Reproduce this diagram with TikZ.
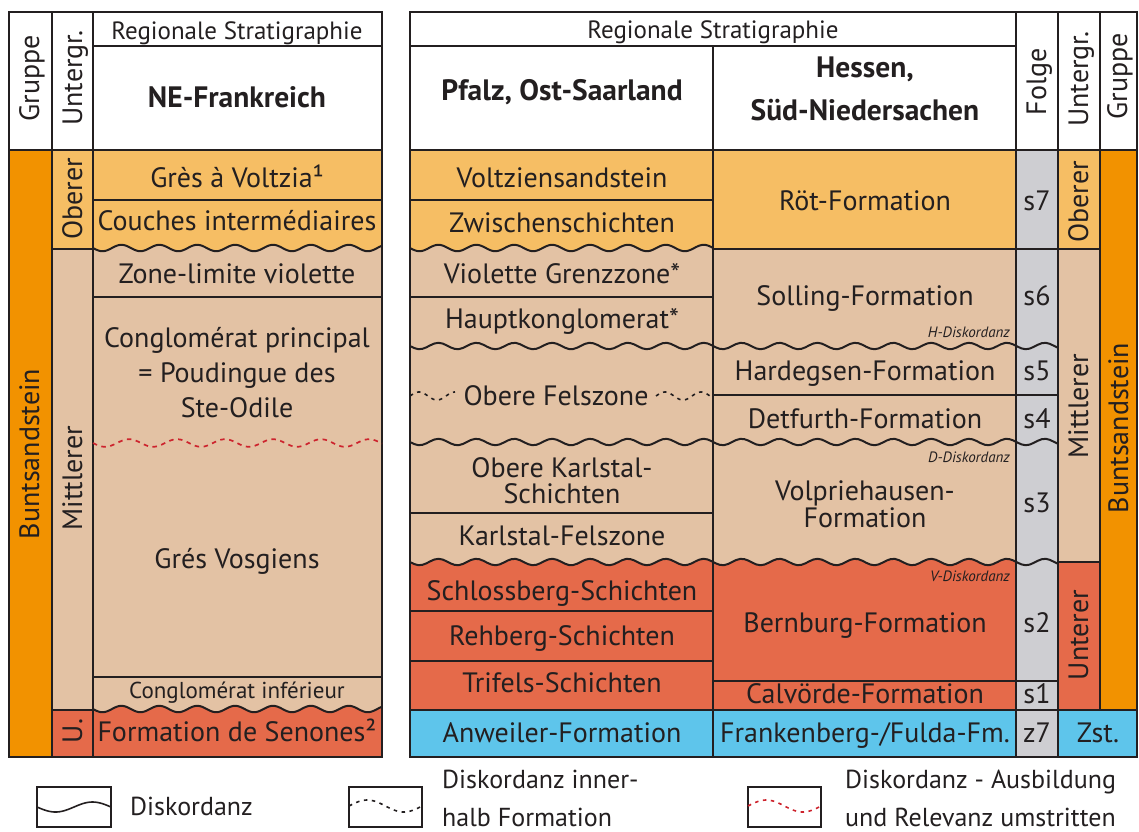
\documentclass[tikz,border=0pt]{standalone}
\usepackage{fontspec}
\setmainfont{PT Sans}
\definecolor{lor}{RGB}{246,190,100}
\definecolor{mtan}{RGB}{227,194,164}
\definecolor{mred}{RGB}{229,106,74}
\definecolor{mblue}{RGB}{94,197,235}
\definecolor{mgray}{RGB}{206,206,210}
\definecolor{morange}{RGB}{242,146,0}
\definecolor{lc}{RGB}{35,31,32}
\definecolor{dred}{RGB}{205,35,45}
\def\wa{3.2}
\def\wp{37.9}
\newcommand{\wline}[3]{\draw[bl] plot[domain=#1:#2,samples=160] (\x,{#3+\wa*sin((\x-#1)/\wp*360)});}
\newcommand{\wfill}[5]{\fill[#5] plot[domain=#1:#2,samples=160] (\x,{#3+\wa*sin((\x-#1)/\wp*360)}) -- (#2,#4) -- (#1,#4) -- cycle;}
\tikzset{
  bl/.style={draw=lc, line width=2pt},
  txt/.style={font=\fontsize{28}{35}\selectfont, text=lc, inner sep=0pt, align=center, anchor=base},
  hdr/.style={font=\fontsize{25}{30}\selectfont, text=lc, inner sep=0pt, anchor=base},
  bhdr/.style={font=\fontsize{29.5}{43}\selectfont\bfseries, text=lc, inner sep=0pt, align=center, anchor=base},
  rot/.style={font=\fontsize{28}{30}\selectfont, text=lc, inner sep=0pt, rotate=90, anchor=base},
  sml/.style={font=\fontsize{15}{17}\selectfont\itshape, text=lc, inner sep=0pt, anchor=base east},
  lgd/.style={font=\fontsize{26}{30}\selectfont, text=lc, inner sep=0pt, anchor=base west},
  lbox/.style={draw=lc, line width=1.6pt},
  dwave/.style={line width=1.6pt, dash pattern=on 3.5pt off 4.5pt},
}
\begin{document}
\begin{tikzpicture}[x=1pt,y=-1pt]
\useasboundingbox (0,0) rectangle (1139,831);
% ---------- left table fills
\fill[morange] (9,150) rectangle (52,757);
\fill[lor] (52,150) rectangle (93,249);
\fill[mtan] (52,249) rectangle (93,710);
\fill[mred] (52,710) rectangle (93,757);
\fill[lor] (93,150) rectangle (382,255);
\wfill{93}{382}{248}{712}{mtan}
\wfill{93}{382}{709}{757}{mred}
% ---------- right table fills
\fill[lor] (410,150) rectangle (1016,255);
\wfill{410}{713}{248}{566}{mtan}
\fill[mtan] (713,249) rectangle (1016,566);
\wfill{410}{1016}{562}{710}{mred}
\fill[mblue] (410,710) rectangle (1016,757);
\fill[mgray] (1016,150) rectangle (1058,757);
\fill[lor] (1058,150) rectangle (1100,249);
\fill[mtan] (1058,249) rectangle (1100,562);
\fill[mred] (1058,562) rectangle (1100,710);
\fill[morange] (1100,150) rectangle (1137,710);
\fill[mblue] (1058,710) rectangle (1137,757);
% ---------- left table lines
\draw[bl] (9,12) rectangle (382,757);
\draw[bl] (93,46) -- (382,46);
\draw[bl] (9,150) -- (382,150);
\draw[bl] (52,12) -- (52,757);
\draw[bl] (93,12) -- (93,757);
\draw[bl] (52,249) -- (93,249);
\draw[bl] (52,710) -- (93,710);
\draw[bl] (93,200) -- (382,200);
\draw[bl] (93,297) -- (382,297);
\draw[bl] (93,677) -- (382,677);
\wline{93}{382}{248}
\wline{93}{382}{709}
\draw[dred, line width=1.7pt, dash pattern=on 4.5pt off 4.5pt] plot[domain=93:382,samples=160] (\x,{443+3.8*sin((\x-93)/48*360)});
% ---------- right table lines
\draw[bl] (410,12) rectangle (1137,757);
\draw[bl] (410,46) -- (1016,46);
\draw[bl] (410,150) -- (1137,150);
\draw[bl] (713,46) -- (713,757);
\draw[bl] (1016,12) -- (1016,757);
\draw[bl] (1058,12) -- (1058,757);
\draw[bl] (1100,12) -- (1100,710);
\draw[bl] (410,710) -- (1137,710);
\draw[bl] (410,200) -- (713,200);
\draw[bl] (410,297) -- (713,297);
\draw[bl] (410,513) -- (713,513);
\draw[bl] (410,611) -- (713,611);
\draw[bl] (410,661) -- (713,661);
\draw[bl] (713,249) -- (1100,249);
\draw[bl] (713,395) -- (1058,395);
\draw[bl] (713,681) -- (1058,681);
\draw[bl] (1058,562) -- (1100,562);
\wline{410}{713}{248}
\wline{410}{1058}{346}
\wline{410}{1058}{442}
\wline{410}{1058}{562}
\draw[lc, dwave] plot[domain=410:455,samples=60] (\x,{396-4*sin((\x-410)/36*360)});
\draw[lc, dwave] plot[domain=656:713,samples=60] (\x,{396-4*sin((\x-656)/36*360)});
% ---------- left texts
\node[hdr] (lrs) at (237,39) {Regionale Stratigraphie};
\node[bhdr] (lne) at (237,107) {NE-Frankreich};
\node[rot] (lgr) at (39,78) {Gruppe};
\node[rot] (lug) at (82,78) {Untergr.};
\node[txt] (l1) at (237,187) {Grès à Voltzia¹};
\node[txt] (l2) at (237,230) {Couches intermédiaires};
\node[txt] (l3) at (237,283) {Zone-limite violette};
\node[txt] (l4) at (237,417) {Conglomérat principal\\= Poudingue des\\Ste-Odile};
\node[txt] (l5) at (237,568) {Grés Vosgiens};
\node[txt, font=\fontsize{23}{26}\selectfont] (l6) at (237,698) {Conglomérat inférieur};
\node[txt] (l7) at (237,741) {Formation de Senones²};
\node[rot] (lbs) at (39,454) {Buntsandstein};
\node[rot] (lob) at (82,199) {Oberer};
\node[rot] (lmi) at (82,478) {Mittlerer};
\node[rot] (lu) at (82,731) {U.};
% ---------- right texts
\node[hdr] (rrs) at (713,38) {Regionale Stratigraphie};
\node[bhdr] (rpf) at (562,100) {Pfalz, Ost-Saarland};
\node[bhdr] (rhe) at (865,120) {Hessen,\\Süd-Niedersachen};
\node[rot] (rfo) at (1046,82) {Folge};
\node[rot] (rug) at (1088,79) {Untergr.};
\node[rot] (rgr) at (1127,76) {Gruppe};
\node[txt] (p1) at (562,187) {Voltziensandstein};
\node[txt] (p2) at (562,232) {Zwischenschichten};
\node[txt] (p3) at (562,283) {Violette Grenzzone*};
\node[txt] (p4) at (562,328) {Hauptkonglomerat*};
\node[txt] (p5) at (556,405) {Obere Felszone};
\node[txt, font=\fontsize{28}{26}\selectfont] (p6) at (562,503) {Obere Karlstal-\\Schichten};
\node[txt] (p7) at (562,545) {Karlstal-Felszone};
\node[txt] (p8) at (562,600) {Schlossberg-Schichten};
\node[txt] (p9) at (562,645) {Rehberg-Schichten};
\node[txt] (p10) at (562,692) {Trifels-Schichten};
\node[txt] (p11) at (562,742) {Anweiler-Formation};
\node[txt] (h1) at (865,210) {Röt-Formation};
\node[txt] (h2) at (865,305) {Solling-Formation};
\node[txt] (h3) at (865,380) {Hardegsen-Formation};
\node[txt] (h4) at (865,428) {Detfurth-Formation};
\node[txt, font=\fontsize{28}{24}\selectfont] (h5) at (865,527) {Volpriehausen-\\Formation};
\node[txt] (h6) at (865,632) {Bernburg-Formation};
\node[txt] (h7) at (865,703) {Calvörde-Formation};
\node[txt] (h8) at (865,742) {Frankenberg-/Fulda-Fm.};
\node[sml] (hd) at (1010,337) {H-Diskordanz};
\node[sml] (dd) at (1010,462) {D-Diskordanz};
\node[sml] (vd) at (1010,581) {V-Diskordanz};
\node[txt] (s7) at (1037,210) {s7};
\node[txt] (s6) at (1037,305) {s6};
\node[txt] (s5) at (1037,380) {s5};
\node[txt] (s4) at (1037,428) {s4};
\node[txt] (s3) at (1037,512) {s3};
\node[txt] (s2) at (1037,632) {s2};
\node[txt] (s1) at (1037,703) {s1};
\node[txt] (z7) at (1037,742) {z7};
\node[rot] (rob) at (1088,202) {Oberer};
\node[rot] (rmi) at (1088,406) {Mittlerer};
\node[rot] (run) at (1088,635) {Unterer};
\node[txt] (zst) at (1098,742) {Zst.};
\node[rot] (rbs) at (1128,428) {Buntsandstein};
% ---------- legend
\draw[lbox] (37,787) rectangle (111,827);
\draw[lc, line width=1.6pt] plot[domain=37:111,samples=60] (\x,{807+5*sin((\x-37)/74*360)});
\node[lgd] (lg1) at (130,815) {Diskordanz};
\draw[lbox] (349,787) rectangle (422,827);
\draw[lc, dwave] plot[domain=349:422,samples=60] (\x,{806-6*sin((\x-349)/73*360)});
\node[lgd] (lg2a) at (442,788) {Diskordanz inner-};
\node[lgd] (lg2b) at (442,826) {halb Formation};
\draw[lbox] (748,787) rectangle (821,827);
\draw[dred, dwave] plot[domain=748:821,samples=60] (\x,{806-6*sin((\x-748)/73*360)});
\node[lgd] (lg3a) at (845,788) {Diskordanz - Ausbildung};
\node[lgd] (lg3b) at (845,826) {und Relevanz umstritten};
\end{tikzpicture}
\end{document}
